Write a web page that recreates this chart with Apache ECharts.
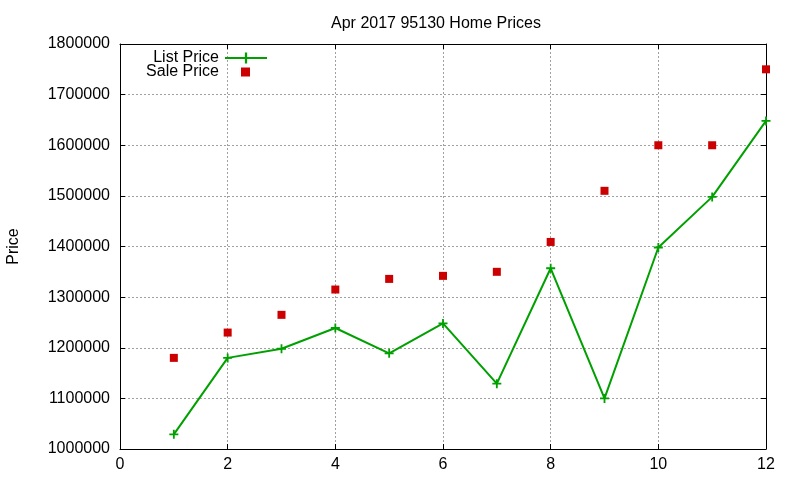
<!DOCTYPE html>
<html>
<head>
<meta charset="utf-8">
<script src="https://cdn.jsdelivr.net/npm/echarts@6/dist/echarts.min.js"></script>
<style>html,body{margin:0;padding:0;background:#fff}#c{width:800px;height:480px}</style>
</head>
<body>
<div id="c"></div>
<script>
var months = [1, 2, 3, 4, 5, 6, 7, 8, 9, 10, 11, 12];
var listPrice = [1029000, 1180000, 1198000, 1239000, 1189000, 1248000, 1129000, 1357000, 1100000, 1398000, 1498000, 1648000];
var salePrice = [1180000, 1230000, 1265000, 1315000, 1336000, 1342000, 1350000, 1409000, 1510000, 1600000, 1600000, 1750000];
var xTicks = [0, 2, 4, 6, 8, 10, 12];
var yTicks = [1000000, 1100000, 1200000, 1300000, 1400000, 1500000, 1600000, 1700000, 1800000];

var FONT = 'Liberation Sans';
var FS = 16;
var plusPath = 'path://M4,0H6V4H10V6H6V10H4V6H0V4H4Z';
var gridLine = {show: true, lineStyle: {color: '#a0a0a0', type: [2, 2], width: 1}};

var chart = echarts.init(document.getElementById('c'), null, {renderer: 'canvas'});
chart.setOption({
  animation: false,
  backgroundColor: '#fff',
  textStyle: {fontFamily: FONT},
  title: {
    text: 'Apr 2017 95130 Home Prices',
    left: 431, top: 11, textAlign: 'center',
    textStyle: {fontFamily: FONT, fontSize: FS, fontWeight: 'normal', color: '#000'}
  },
  grid: {left: 120, right: 34, top: 44, bottom: 31, containLabel: false, outerBoundsMode: 'none'},
  legend: [{
    data: ['List Price'],
    orient: 'vertical', align: 'right',
    right: 532, top: 50, padding: 0,
    itemWidth: 42, itemHeight: 14,
    textStyle: {fontFamily: FONT, fontSize: FS, color: '#000', padding: [0, 1, 0, 0]}
  }, {
    data: [{name: 'Sale Price', icon: 'rect'}],
    orient: 'vertical', align: 'right',
    right: 550, top: 64, padding: 0,
    itemWidth: 9, itemHeight: 9,
    textStyle: {fontFamily: FONT, fontSize: FS, color: '#000', padding: [0, 17, 0, 0]}
  }],
  xAxis: [{
    type: 'value', min: 0, max: 12, interval: 2,
    position: 'bottom',
    axisLine: {show: true, onZero: false, lineStyle: {color: '#000', width: 1}},
    axisTick: {show: true, inside: true, length: 5, lineStyle: {color: '#000'}},
    axisLabel: {color: '#000', fontFamily: FONT, fontSize: FS, margin: 8},
    splitLine: gridLine
  }, {
    type: 'value', min: 0, max: 12, interval: 2,
    position: 'top',
    axisLine: {show: true, onZero: false, lineStyle: {color: '#000', width: 1}},
    axisTick: {show: true, inside: true, length: 5, lineStyle: {color: '#000'}},
    axisLabel: {show: false},
    splitLine: {show: false}
  }],
  yAxis: [{
    type: 'value', min: 1000000, max: 1800000, interval: 100000,
    position: 'left',
    name: 'Price', nameLocation: 'middle', nameGap: 98, nameRotate: 90,
    nameTextStyle: {color: '#000', fontFamily: FONT, fontSize: FS},
    axisLine: {show: true, onZero: false, lineStyle: {color: '#000', width: 1}},
    axisTick: {show: true, inside: true, length: 5, lineStyle: {color: '#000'}},
    axisLabel: {color: '#000', fontFamily: FONT, fontSize: FS, margin: 10,
      formatter: function (v) { return String(v); }},
    splitLine: gridLine
  }, {
    type: 'value', min: 1000000, max: 1800000, interval: 100000,
    position: 'right',
    axisLine: {show: true, onZero: false, lineStyle: {color: '#000', width: 1}},
    axisTick: {show: true, inside: true, length: 5, lineStyle: {color: '#000'}},
    axisLabel: {show: false},
    splitLine: {show: false}
  }],
  series: [{
    name: 'List Price', type: 'line',
    data: months.map(function (m, i) { return [m, listPrice[i]]; }),
    symbol: plusPath, symbolSize: 9, showAllSymbol: true,
    lineStyle: {color: '#00a000', width: 2},
    itemStyle: {color: '#00a000', opacity: 1},
    emphasis: {disabled: true}, z: 3
  }, {
    name: 'Sale Price', type: 'scatter',
    data: months.map(function (m, i) { return [m, salePrice[i]]; }),
    symbol: 'rect', symbolSize: 8,
    itemStyle: {color: '#cc0000', opacity: 1},
    emphasis: {disabled: true}, z: 4
  }]
});
</script>
</body>
</html>
